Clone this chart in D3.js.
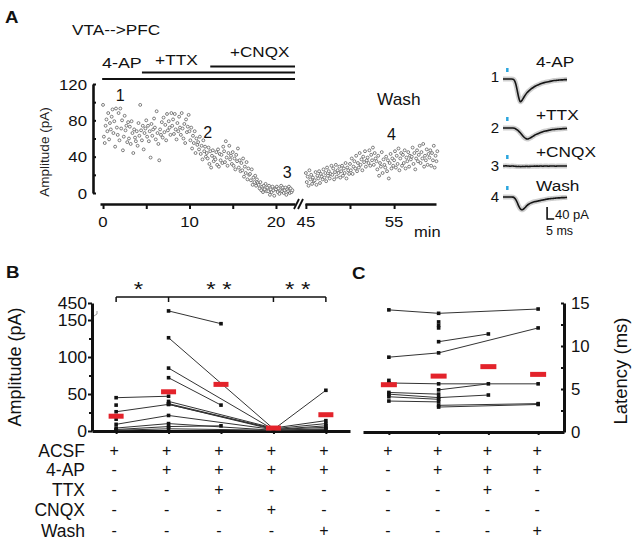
<!DOCTYPE html>
<html><head><meta charset="utf-8">
<script src="https://cdn.jsdelivr.net/npm/d3@7"></script>
<style>html,body{margin:0;padding:0;background:#fff}svg{display:block}</style>
</head><body><svg id="c" width="638" height="543"></svg>
<script>
// ================= DATA =================
// Panel A: time course (amplitude, pA), sampled every 0.1 min
const seg1Start = 0, seg1Step = 0.1;
const amp1 = [
 97,62,55,74,81,68,88,59,77,70, 84,92,66,79,51,93,72,64,88,58,
 93,71,80,47,62,85,69,74,56,78, 60,73,54,79,66,44,70,61,57,68,
 52,77,63,97,69,58,74,48,66,71, 80,62,74,57,68,39,76,63,70,82,
 72,59,90,66,54,36,70,64,78,61, 83,67,75,58,87,69,79,72,64,88,
 74,81,65,87,70,59,77,68,84,72, 64,88,71,60,76,55,81,67,73,86,
 68,58,72,49,63,55,68,44,60,53, 56,48,62,43,52,37,58,46,51,40,
 44,38,50,32,46,28,41,47,35,39, 37,45,31,48,29,43,36,42,33,51,
 46,34,57,39,30,44,52,37,41,32, 45,30,38,26,42,35,49,28,36,24,
 33,25,38,18,29,22,34,15,27,20, 21,14,26,9,17,12,19,8,15,11,
 9,5,12,3,7,1,8,4,10,2, 6,2,8,-2,4,1,7,3,-3,5,
 4,7,1,5,-1,3,8,2,6,0, 3,6,-2,4,2,7,0,5,1,3
];
const seg2Start = 45, seg2Step = 0.1;
const amp2 = [
 22,12,18,8,25,15,20,10,17,13, 14,23,9,19,16,24,11,21,18,15,
 26,17,22,13,28,19,24,16,21,30, 20,27,15,23,31,18,25,22,29,17,
 24,30,19,27,22,33,16,28,25,21, 32,25,38,21,29,35,27,41,24,33,
 28,44,31,37,25,40,34,46,29,36, 39,33,47,30,42,36,50,31,44,38,
 35,26,41,19,33,29,45,22,37,31, 28,40,24,36,16,33,43,27,38,30,
 36,46,28,41,32,49,25,38,44,30, 42,33,47,27,39,35,45,29,41,37,
 40,50,32,44,26,38,47,35,42,52, 33,45,38,54,29,41,36,48,31,43,
 39,47,30,44,36,52,28,41,35,46
];
const drugs = ["4-AP", "+TTX", "+CNQX"];
const drugStart = [-0.1, 4.5, 12.4];
const drugEnd = 22.2;
const aYTicks = [0, 40, 80, 120];
const aYMinor = [20, 60, 100];
const aX1Ticks = [0, 10, 20];
const aX1Minor = [5, 15];
const aX2Ticks = [45, 55];
const aX2Minor = [50];
const epochLabels = ["1", "2", "3", "4"];

// Panel A: averaged traces (pA), 1 ms per sample
const traceNames = ["4-AP", "+TTX", "+CNQX", "Wash"];
const traceStep = 1;
const stimTime = 3;
const trace1 = [0,0,0,0,0,0,0,0,-3,-15,-38,-62,-78,-74,-66,-58,-51,-45,-40,-36,-32,-29,-26,-23,-21,-19,-17,-15,-13,-12,-11,-10,-9,-8,-7,-6,-5,-5,-4,-4,-3,-3,-3,-2,-2,-2];
const trace2 = [0,0,0,0,0,0,0,0,-1,-3,-6,-10,-15,-21,-27,-32,-35,-37,-36,-34,-31,-28,-25,-22,-20,-18,-16,-14,-12,-11,-10,-9,-8,-7,-6,-5,-5,-4,-4,-3,-3,-3,-2,-2,-2,-1];
const trace3 = [0,0,1,0,0,-1,0,0,-1,-1,-2,-1,-2,-2,-1,-2,-1,-1,-2,-1,-1,-1,0,-1,0,-1,0,0,-1,0,0,0,-1,0,0,0,0,-1,0,0,0,0,0,0,0,0];
const trace4 = [0,0,0,0,0,0,0,0,-2,-8,-18,-30,-39,-43,-42,-38,-33,-28,-24,-21,-19,-17,-16,-15,-14,-13,-12,-11,-10,-9,-8,-7,-6,-6,-5,-5,-4,-4,-3,-3,-3,-2,-2,-2,-2,-1];
const scaleBarPA = 40, scaleBarMs = 5;

// Panel B: amplitude per cell across conditions (null = not recorded)
const bConditions = ["ACSF", "4-AP", "TTX", "CNQX", "Wash"];
const bCells = [
 [null, 310, 145, null, null],
 [null, 126, null, 3, null],
 [null, 85, null, 2, 55],
 [null, 72, 35, null, null],
 [45, 47, null, null, null],
 [35, null, null, null, null],
 [null, 40, null, 4, 14],
 [null, 37, null, 3, 10],
 [null, 36, null, 2, 7],
 [26, 36, null, 3, null],
 [16, null, null, null, null],
 [9, 21, null, 2, 5],
 [4, 10, null, 1, 3],
 [2, 6, 7, null, null],
 [1, 3, null, 1, 2]
];
const bMeans = [20, 53, 63, 4, 22];
const bYTicks = [0, 50, 100, 150, 450];
const bYMinor = [25, 75, 125];
const sigBrackets = [[0, 1, "*"], [1, 3, "* *"], [3, 4, "* *"]];

// Panel C: latency (ms)
const cConditions = ["ACSF", "4-AP", "TTX", "Wash"];
const cCells = [
 [14.2, 13.8, null, 14.3],
 [null, 12.8, null, null],
 [null, 12.4, null, null],
 [null, 12.1, null, null],
 [null, 10.5, 11.4, null],
 [8.7, 9.2, null, 12.1],
 [6.0, null, null, null],
 [5.7, 5.6, null, 5.6],
 [null, 4.9, 5.6, null],
 [4.6, 4.4, null, null],
 [4.4, 4.0, 4.3, null],
 [4.1, 3.8, null, null],
 [3.6, 3.5, null, null],
 [null, 3.1, null, 3.3],
 [null, 2.9, null, 3.2]
];
const cMeans = [5.5, 6.5, 7.6, 6.7];
const cYTicks = [0, 5, 10, 15];
const cYMinor = [2.5, 7.5, 12.5];

// Condition table
const tableRows = ["ACSF", "4-AP", "TTX", "CNQX", "Wash"];
const bSigns = [["+","+","+","+","+"],["-","+","+","+","+"],["-","-","+","-","-"],["-","-","-","+","-"],["-","-","-","-","+"]];
const cSigns = [["+","+","+","+"],["-","+","+","+"],["-","-","+","-"],["-","-","-","-"],["-","-","-","+"]];

// ================= DRAWING =================
const svg = d3.select("#c").attr("font-family", "'Liberation Sans', Arial, Helvetica, sans-serif");
const INK = "#111", RED = "#e3232b";

function T(g, s, x, y, o = {}) {
  let tr = `translate(${x},${y})`;
  if (o.rot) tr += ` rotate(${o.rot})`;
  if (o.sx) tr += ` scale(${o.sx},1)`;
  return g.append("text").text(s).attr("transform", tr)
    .attr("font-size", o.size || 14)
    .attr("text-anchor", o.anchor || "start")
    .attr("font-weight", o.bold ? "bold" : null)
    .attr("fill", o.fill || INK);
}
function styleAxis(sel, w, tw) {
  sel.select(".domain").attr("stroke", INK).attr("stroke-width", w);
  sel.selectAll(".tick line").attr("stroke", INK).attr("stroke-width", tw || 2);
  sel.selectAll(".tick text").remove();
}

// ---------- Panel A ----------
const gA = svg.append("g");
T(gA, "A", 5, 23, {size: 17, bold: true, sx: 1.1});
T(gA, "VTA-->PFC", 72, 35, {size: 14, sx: 1.23});

const x1 = d3.scaleLinear().domain([-0.35, 22.2]).range([100, 295]);
const x2 = d3.scaleLinear().domain([44.9, 59.75]).range([305, 436]);
const yA = d3.scaleLinear().domain([0, 120]).range([193, 84]);

const drugY = [79, 72.5, 66.5];
gA.selectAll("line.drug").data(drugs).join("line").attr("class", "drug")
  .attr("x1", (d, i) => x1(drugStart[i])).attr("x2", x1(drugEnd))
  .attr("y1", (d, i) => drugY[i]).attr("y2", (d, i) => drugY[i])
  .attr("stroke", INK).attr("stroke-width", 2.2);
T(gA, drugs[0], 102, 68, {size: 14, sx: 1.28});
T(gA, drugs[1], 155, 65, {size: 14, sx: 1.24});
T(gA, drugs[2], 230, 57, {size: 14, sx: 1.22});

// scatter
gA.selectAll("circle.s1").data(amp1).join("circle").attr("class", "s1")
  .attr("cx", (d, i) => x1(seg1Start + i * seg1Step)).attr("cy", d => yA(d))
  .attr("r", 1.45).attr("fill", "#fff").attr("stroke", "#555").attr("stroke-width", 0.75);
gA.selectAll("circle.s2").data(amp2).join("circle").attr("class", "s2")
  .attr("cx", (d, i) => x2(seg2Start + i * seg2Step)).attr("cy", d => yA(d))
  .attr("r", 1.45).attr("fill", "#fff").attr("stroke", "#555").attr("stroke-width", 0.75);

// y axis
gA.append("g").attr("transform", "translate(93,0)")
  .call(d3.axisRight(yA).tickValues(aYTicks).tickSize(3).tickSizeOuter(0)).call(s => styleAxis(s, 2.6));
gA.append("g").attr("transform", "translate(93,0)")
  .call(d3.axisRight(yA).tickValues(aYMinor).tickSize(3).tickSizeOuter(0))
  .call(s => { styleAxis(s, 0); s.select(".domain").remove(); });
aYTicks.forEach(v => T(gA, v, 87, yA(v) + 5.5, {size: 15, sx: 1.12, anchor: "end"}));
T(gA, "Amplitude (pA)", 49, 152, {size: 13.5, rot: -90, anchor: "middle", fill: "#222"});

// x axes
gA.append("g").attr("transform", "translate(0,204)")
  .call(d3.axisBottom(x1).tickValues(aX1Ticks.concat(aX1Minor)).tickSize(5).tickSizeOuter(0)).call(s => styleAxis(s, 2.6));
gA.append("g").attr("transform", "translate(0,204)")
  .call(d3.axisBottom(x2).tickValues(aX2Ticks.concat(aX2Minor)).tickSize(5).tickSizeOuter(0)).call(s => styleAxis(s, 2.6));
aX1Ticks.forEach(v => T(gA, v, x1(v), 227, {size: 15, sx: 1.12, anchor: "middle"}));
aX2Ticks.forEach(v => T(gA, v, x2(v), 227, {size: 15, sx: 1.12, anchor: "middle"}));
T(gA, "min", 414, 237, {size: 15, sx: 1.1});
// break marks
[[294, 299], [298, 303]].forEach(p => gA.append("line")
  .attr("x1", p[0]).attr("y1", 209).attr("x2", p[1]).attr("y2", 199)
  .attr("stroke", INK).attr("stroke-width", 1.8));

// epoch labels
T(gA, epochLabels[0], x1(2), 101, {size: 16, anchor: "middle"});
T(gA, epochLabels[1], x1(12.1), 138, {size: 16, anchor: "middle"});
T(gA, epochLabels[2], x1(21.3), 178, {size: 16, anchor: "middle"});
T(gA, epochLabels[3], x2(54.7), 140, {size: 16, anchor: "middle"});
T(gA, "Wash", 377, 105, {size: 16, sx: 1.08});

// traces
const traces = [trace1, trace2, trace3, trace4];
const traceBase = [79, 128, 166, 197];
const traceLabelY = [82, 133, 171, 202];
const traceNameY = [67, 120, 157, 191];
const xT = d3.scaleLinear().domain([0, 45]).range([503, 567]);
const pxPerPA = 12 / 40;
traces.forEach((tr, k) => {
  const yT = d3.scaleLinear().domain([0, -40]).range([traceBase[k], traceBase[k] + 40 * pxPerPA]);
  const ln = d3.line().x((d, i) => xT(i * traceStep)).y(d => yT(d)).curve(d3.curveBasis);
  gA.append("path").attr("d", ln(tr)).attr("fill", "none").attr("stroke", "#cfcfcf")
    .attr("stroke-width", 5).attr("stroke-linejoin", "round");
  gA.append("path").attr("d", ln(tr)).attr("fill", "none").attr("stroke", "#151515").attr("stroke-width", 1.6);
  gA.append("rect").attr("x", xT(stimTime) - 1.2).attr("y", traceBase[k] - 11).attr("width", 2.5).attr("height", 4).attr("fill", "#2ba6de");
  T(gA, epochLabels[k], 495, traceLabelY[k], {size: 15, anchor: "middle"});
  T(gA, traceNames[k], 536, traceNameY[k], {size: 15, sx: 1.15});
});
// scale bar
{
  const sb0 = 31, sbY = 219;
  const ySB = d3.scaleLinear().domain([0, scaleBarPA]).range([sbY, sbY - scaleBarPA * pxPerPA]);
  gA.append("path").attr("d", `M${xT(sb0)},${ySB(scaleBarPA)}V${ySB(0)}H${xT(sb0 + scaleBarMs)}`)
    .attr("fill", "none").attr("stroke", INK).attr("stroke-width", 1.6);
  T(gA, scaleBarPA + " pA", 555, 219, {size: 13});
  T(gA, scaleBarMs + " ms", 546, 235, {size: 12.5});
}

// ---------- Panel B ----------
const gB = svg.append("g");
T(gB, "B", 6, 278, {size: 17, bold: true, sx: 1.1});
const xB = d3.scalePoint().domain(d3.range(bConditions.length)).range([92, 350]).padding(0.46);
const yB = d3.scaleLinear().domain([0, 150, 450]).range([431, 320, 303]);

gB.append("g").attr("transform", "translate(92,0)")
  .call(d3.axisLeft(yB).tickValues(bYTicks).tickSize(4).tickSizeOuter(0)).call(s => styleAxis(s, 3));
gB.append("g").attr("transform", "translate(92,0)")
  .call(d3.axisLeft(yB).tickValues(bYMinor).tickSize(3).tickSizeOuter(0))
  .call(s => { styleAxis(s, 0); s.select(".domain").remove(); });
gB.append("path").attr("d", "M94,316 l3,-2 l0,-3").attr("fill", "none").attr("stroke", "#999").attr("stroke-width", 1);
gB.append("g").attr("transform", "translate(0,431)")
  .call(d3.axisBottom(xB).tickSize(3).tickSizeOuter(0)).call(s => styleAxis(s, 3));
bYTicks.forEach(v => T(gB, v, 87, yB(v) + 5.8, {size: 16, sx: 1.1, anchor: "end"}));
T(gB, "Amplitude (pA)", 21, 367, {size: 18, rot: -90, anchor: "middle"});

const lineB = d3.line().x(d => xB(d[0])).y(d => yB(d[1]));
bCells.forEach(cell => {
  const pts = cell.map((v, i) => [i, v]).filter(d => d[1] !== null);
  if (pts.length > 1) gB.append("path").attr("d", lineB(pts)).attr("fill", "none").attr("stroke", "#333").attr("stroke-width", 1);
  gB.selectAll(null).data(pts).join("rect")
    .attr("x", d => xB(d[0]) - 1.8).attr("y", d => yB(d[1]) - 1.8).attr("width", 3.6).attr("height", 3.6).attr("fill", INK);
});
gB.selectAll("rect.mean").data(bMeans).join("rect").attr("class", "mean")
  .attr("x", (d, i) => xB(i) - 7.5).attr("y", d => yB(d) - 2.5).attr("width", 15).attr("height", 5).attr("fill", RED);

// significance
{
  const yBr = 297;
  gB.append("line").attr("x1", xB(0)).attr("x2", xB(4)).attr("y1", yBr).attr("y2", yBr).attr("stroke", INK).attr("stroke-width", 1.5);
  [0, 1, 3, 4].forEach(i => gB.append("line").attr("x1", xB(i)).attr("x2", xB(i)).attr("y1", yBr).attr("y2", yBr + 5).attr("stroke", INK).attr("stroke-width", 1.5));
  sigBrackets.forEach(s => T(gB, s[2], (xB(s[0]) + xB(s[1])) / 2 + (s[2] === "*" ? -4 : -2), 296, {size: 21, sx: 1.15, anchor: "middle"}));
}

// ---------- Panel C ----------
const gC = svg.append("g");
T(gC, "C", 352, 279, {size: 17, bold: true, sx: 1.1});
const xC = d3.scalePoint().domain(d3.range(cConditions.length)).range([363, 564]).padding(0.52);
const yC = d3.scaleLinear().domain([0, 15]).range([432, 303]);
gC.append("g").attr("transform", "translate(564,0)")
  .call(d3.axisLeft(yC).tickValues(cYTicks).tickSize(3).tickSizeOuter(0)).call(s => styleAxis(s, 3));
gC.append("g").attr("transform", "translate(564,0)")
  .call(d3.axisLeft(yC).tickValues(cYMinor).tickSize(3).tickSizeOuter(0))
  .call(s => { styleAxis(s, 0); s.select(".domain").remove(); });
gC.append("g").attr("transform", "translate(0,432)")
  .call(d3.axisBottom(xC).tickSize(3).tickSizeOuter(0)).call(s => styleAxis(s, 3));
cYTicks.forEach(v => T(gC, v, 571, yC(v) + 5.8, {size: 16, sx: 1.05}));
T(gC, "Latency (ms)", 627, 371, {size: 18.5, rot: -90, anchor: "middle"});

const lineC = d3.line().x(d => xC(d[0])).y(d => yC(d[1]));
cCells.forEach(cell => {
  const pts = cell.map((v, i) => [i, v]).filter(d => d[1] !== null);
  if (pts.length > 1) gC.append("path").attr("d", lineC(pts)).attr("fill", "none").attr("stroke", "#333").attr("stroke-width", 1);
  gC.selectAll(null).data(pts).join("rect")
    .attr("x", d => xC(d[0]) - 1.8).attr("y", d => yC(d[1]) - 1.8).attr("width", 3.6).attr("height", 3.6).attr("fill", INK);
});
gC.selectAll("rect.mean").data(cMeans).join("rect").attr("class", "mean")
  .attr("x", (d, i) => xC(i) - 8).attr("y", d => yC(d) - 2.5).attr("width", 16).attr("height", 5).attr("fill", RED);

// ---------- Condition table ----------
const rowY = [457, 476, 496, 516, 537];
tableRows.forEach((r, k) => {
  T(svg, r, 85, rowY[k], {size: 17.5, anchor: "end"});
  bSigns[k].forEach((s, i) => T(svg, s, xB(i) - 2, rowY[k] - 1, {size: 16, anchor: "middle"}));
  cSigns[k].forEach((s, i) => T(svg, s, xC(i) - 1, rowY[k] - 1, {size: 16, anchor: "middle"}));
});
</script>
</body></html>
